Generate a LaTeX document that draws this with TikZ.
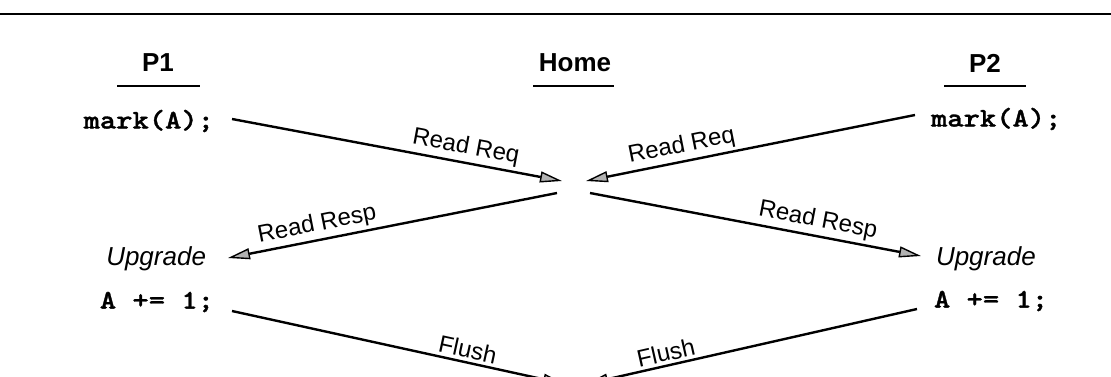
\documentclass[tikz,border=0pt]{standalone}
\usepackage{fontspec}
\setmainfont{Liberation Sans}
\newfontfamily\codefont[FakeBold=1.2,FakeStretch=1.15]{lmmonolt10-bold.otf}
\usetikzlibrary{arrows.meta}
\begin{document}
\begin{tikzpicture}[x=1pt,y=-1pt,
  head/.style={font=\fontsize{26}{29}\selectfont\bfseries},
  code/.style={font=\fontsize{27}{30}\selectfont\codefont, inner sep=0pt, outer sep=0pt},
  state/.style={font=\fontsize{26}{29}\selectfont\itshape, inner sep=0pt, outer sep=0pt},
  msg/.style={font=\fontsize{24}{27}\selectfont, sloped, above, inner sep=3pt},
  rule/.style={line width=2.4pt},
  uline/.style={line width=2pt},
  arr/.style={line width=2.4pt, -{Triangle[length=22pt,width=11pt,fill=gray!60,line width=1.4pt]}},
]
\useasboundingbox (0,0) rectangle (1111,377);
\clip (0,0) rectangle (1111,377);

% top rule
\coordinate (ruleL) at (0,14);
\coordinate (ruleR) at (1111,14);
\draw[rule] (ruleL) -- (ruleR);

% column headings with underlines
\node[head] (p1) at (158,63) {P1};
\node[head] (home) at (575,63) {Home};
\node[head] (p2) at (985,63) {P2};
\draw[uline] (117,86) -- (200,86);
\draw[uline] (533,86) -- (614,86);
\draw[uline] (944,86) -- (1026,86);

% processor P1 column
\node[code, anchor=east] (mL) at (214,121) {mark(A);};
\node[state, anchor=east] (uL) at (206,259) {Upgrade};
\node[code, anchor=east] (aL) at (214,302) {A += 1;};

% processor P2 column
\node[code, anchor=west] (mR) at (931,119) {mark(A);};
\node[state, anchor=west] (uR) at (936,259) {Upgrade};
\node[code, anchor=west] (aR) at (934,301) {A += 1;};

% message end points at the home node
\coordinate (reqL) at (562,181);
\coordinate (reqR) at (586,181);
\coordinate (rspL) at (557,193);
\coordinate (rspR) at (590,193);
\coordinate (flL) at (565,384);
\coordinate (flR) at (586,384);

% P1 side
\coordinate (mLo) at (232,119);
\coordinate (uLi) at (228,258);
\coordinate (aLo) at (232,311);
\draw[arr] (mLo) -- node[msg, pos=0.7] {Read Req} (reqL);
\draw[arr] (rspL) -- node[msg, pos=0.72] {Read Resp} (uLi);
\draw[arr] (aLo) -- node[msg, pos=0.7] {Flush} (flL);

% P2 side
\coordinate (mRo) at (915,115);
\coordinate (uRi) at (921,256);
\coordinate (aRo) at (917,309);
\draw[arr] (mRo) -- node[msg, pos=0.7] {Read Req} (reqR);
\draw[arr] (rspR) -- node[msg, pos=0.68] {Read Resp} (uRi);
\draw[arr] (aRo) -- node[msg, pos=0.75] {Flush} (flR);
\end{tikzpicture}
\end{document}
